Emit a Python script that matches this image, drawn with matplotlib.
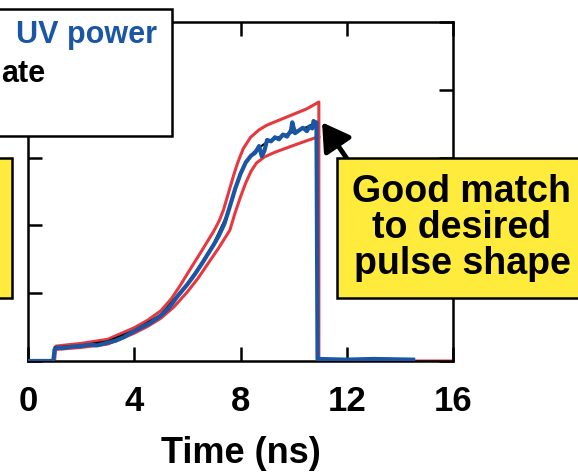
import matplotlib
matplotlib.use("Agg")
import matplotlib.pyplot as plt
from matplotlib.patches import Rectangle

plt.rcParams['font.family'] = ['Liberation Sans', 'DejaVu Sans']
plt.rcParams['font.weight'] = 'bold'

# measured UV power (ns, arb. units)
blue_t = [0, 0.95, 1.0, 1.1, 1.3, 1.6, 2.0, 2.3, 2.6, 3.0, 3.3, 3.6, 4.0, 4.3, 4.6,
          5.0, 5.3, 5.6, 6.0, 6.3, 6.6, 7.0, 7.2, 7.4, 7.6, 7.8, 8.0, 8.2, 8.4,
          8.55, 8.7, 8.8, 8.9, 9.0, 9.15, 9.3, 9.45, 9.6, 9.75, 9.9, 9.95, 10.05,
          10.2, 10.35, 10.5, 10.6, 10.7, 10.75, 10.82, 10.86, 10.9, 12.0, 13.0, 14.5]
blue_v = [0, 0, 0.17, 0.20, 0.19, 0.21, 0.22, 0.24, 0.23, 0.27, 0.30, 0.35, 0.44, 0.50, 0.56,
          0.67, 0.78, 0.94, 1.13, 1.29, 1.47, 1.72, 1.86, 2.03, 2.28, 2.54, 2.76, 2.93, 3.03,
          3.07, 3.17, 3.02, 3.10, 3.26, 3.24, 3.30, 3.27, 3.34, 3.31, 3.40, 3.52, 3.36,
          3.40, 3.44, 3.39, 3.46, 3.43, 3.54, 3.50, 3.52, 0.03, 0.02, 0.03, 0.02]

# smoother trace hidden mostly under the measured curve
black_t = [1.0, 2.0, 3.0, 4.0, 5.0, 6.0, 6.5, 7.0, 7.5, 8.0, 8.25, 8.5, 8.75, 9.0, 9.5, 10.0, 10.5, 10.85]
black_v = [0.2, 0.23, 0.29, 0.45, 0.68, 1.14, 1.42, 1.74, 2.16, 2.78, 2.96, 3.08, 3.16, 3.23, 3.31, 3.38, 3.45, 3.52]

# desired pulse envelope (upper / lower limits)
upper_t = [0, 1.0, 1.05, 2.0, 3.0, 4.0, 4.5, 5.0, 5.4, 5.74, 6.1, 6.5, 7.0, 7.2, 7.36, 7.6,
           7.75, 7.89, 8.1, 8.38, 8.7, 9.0, 9.5, 10.0, 10.5, 10.95, 10.95, 16.0]
upper_v = [0, 0, 0.22, 0.26, 0.32, 0.49, 0.60, 0.74, 0.92, 1.12, 1.35, 1.60, 1.92, 2.07, 2.23, 2.55,
           2.75, 2.92, 3.13, 3.30, 3.41, 3.48, 3.56, 3.64, 3.72, 3.82, 0, 0]
lower_t = [1.05, 2.0, 3.0, 4.0, 4.5, 5.0, 5.5, 6.0, 6.4, 6.8, 7.2, 7.6, 7.8, 8.0, 8.2,
           8.4, 8.6, 8.9, 9.3, 10.0, 10.5, 10.95]
lower_v = [0.17, 0.20, 0.25, 0.41, 0.51, 0.63, 0.80, 1.02, 1.22, 1.45, 1.68, 1.93, 2.19, 2.42, 2.63,
           2.80, 2.92, 3.01, 3.08, 3.18, 3.25, 3.31]

xticks = [0, 4, 8, 12, 16]

blue = '#1a56a4'
red = '#e5383f'
yellow = '#ffeb3b'

fig = plt.figure(figsize=(5.78, 4.72), dpi=100)
ax = fig.add_axes([28 / 578, 111 / 472, 425 / 578, 339 / 472])

ax.plot(upper_t, upper_v, color=red, lw=2.2, zorder=2)
ax.plot(lower_t, lower_v, color=red, lw=2.2, zorder=2)
ax.plot(black_t, black_v, color='black', lw=1.5, zorder=3)
ax.plot(blue_t, blue_v, color=blue, lw=3.0, zorder=4)

ax.set_xlim(0, 16)
ax.set_ylim(0, 5)
ax.set_xticks(xticks)
ax.set_xticklabels([str(t) for t in xticks], fontsize=25, fontweight='bold')
ax.set_yticks([0, 1, 2, 3, 4, 5])
ax.set_yticklabels([])
ax.tick_params(direction='in', length=10, width=1.8, top=True, right=True, pad=17)
for s in ax.spines.values():
    s.set_linewidth(1.8)
ax.set_xlabel('Time (ns)', fontsize=26, fontweight='bold', labelpad=13)

ax.annotate('', xy=(11.07, 3.52), xytext=(12.05, 2.96),
            arrowprops=dict(arrowstyle='-|>,head_length=0.75,head_width=0.45', color='black',
                            lw=3.5, mutation_scale=22, shrinkA=0, shrinkB=0),
            annotation_clip=False, zorder=6)

# legend box (runs off the left edge of the picture)
fig.patches.append(Rectangle((-0.2, 1 - 136 / 472), 0.2 + 172 / 578, 127 / 472,
                             transform=fig.transFigure, facecolor='white',
                             edgecolor='black', lw=1.8, zorder=10))
fig.text(157 / 578, 1 - 43 / 472, 'UV power', color=blue, fontsize=22,
         fontweight='bold', ha='right', va='baseline', zorder=11)
fig.text(1 / 578, 1 - 82 / 472, 'ate', color='black', fontsize=22,
         fontweight='bold', ha='left', va='baseline', zorder=11)

# yellow boxes
fig.patches.append(Rectangle((-0.2, 1 - 298 / 472), 0.2 + 12 / 578, 140 / 472,
                             transform=fig.transFigure, facecolor=yellow,
                             edgecolor='black', lw=1.8, zorder=10))
fig.patches.append(Rectangle((337 / 578, 1 - 298 / 472), 0.5, 140 / 472,
                             transform=fig.transFigure, facecolor=yellow,
                             edgecolor='black', lw=1.8, zorder=10))
fig.text(462 / 578, 1 - 228 / 472, 'Good match\nto desired\npulse shape', fontsize=27,
         fontweight='bold', ha='center', va='center', linespacing=1.0, zorder=11)

fig.savefig('out.png', dpi=100)
